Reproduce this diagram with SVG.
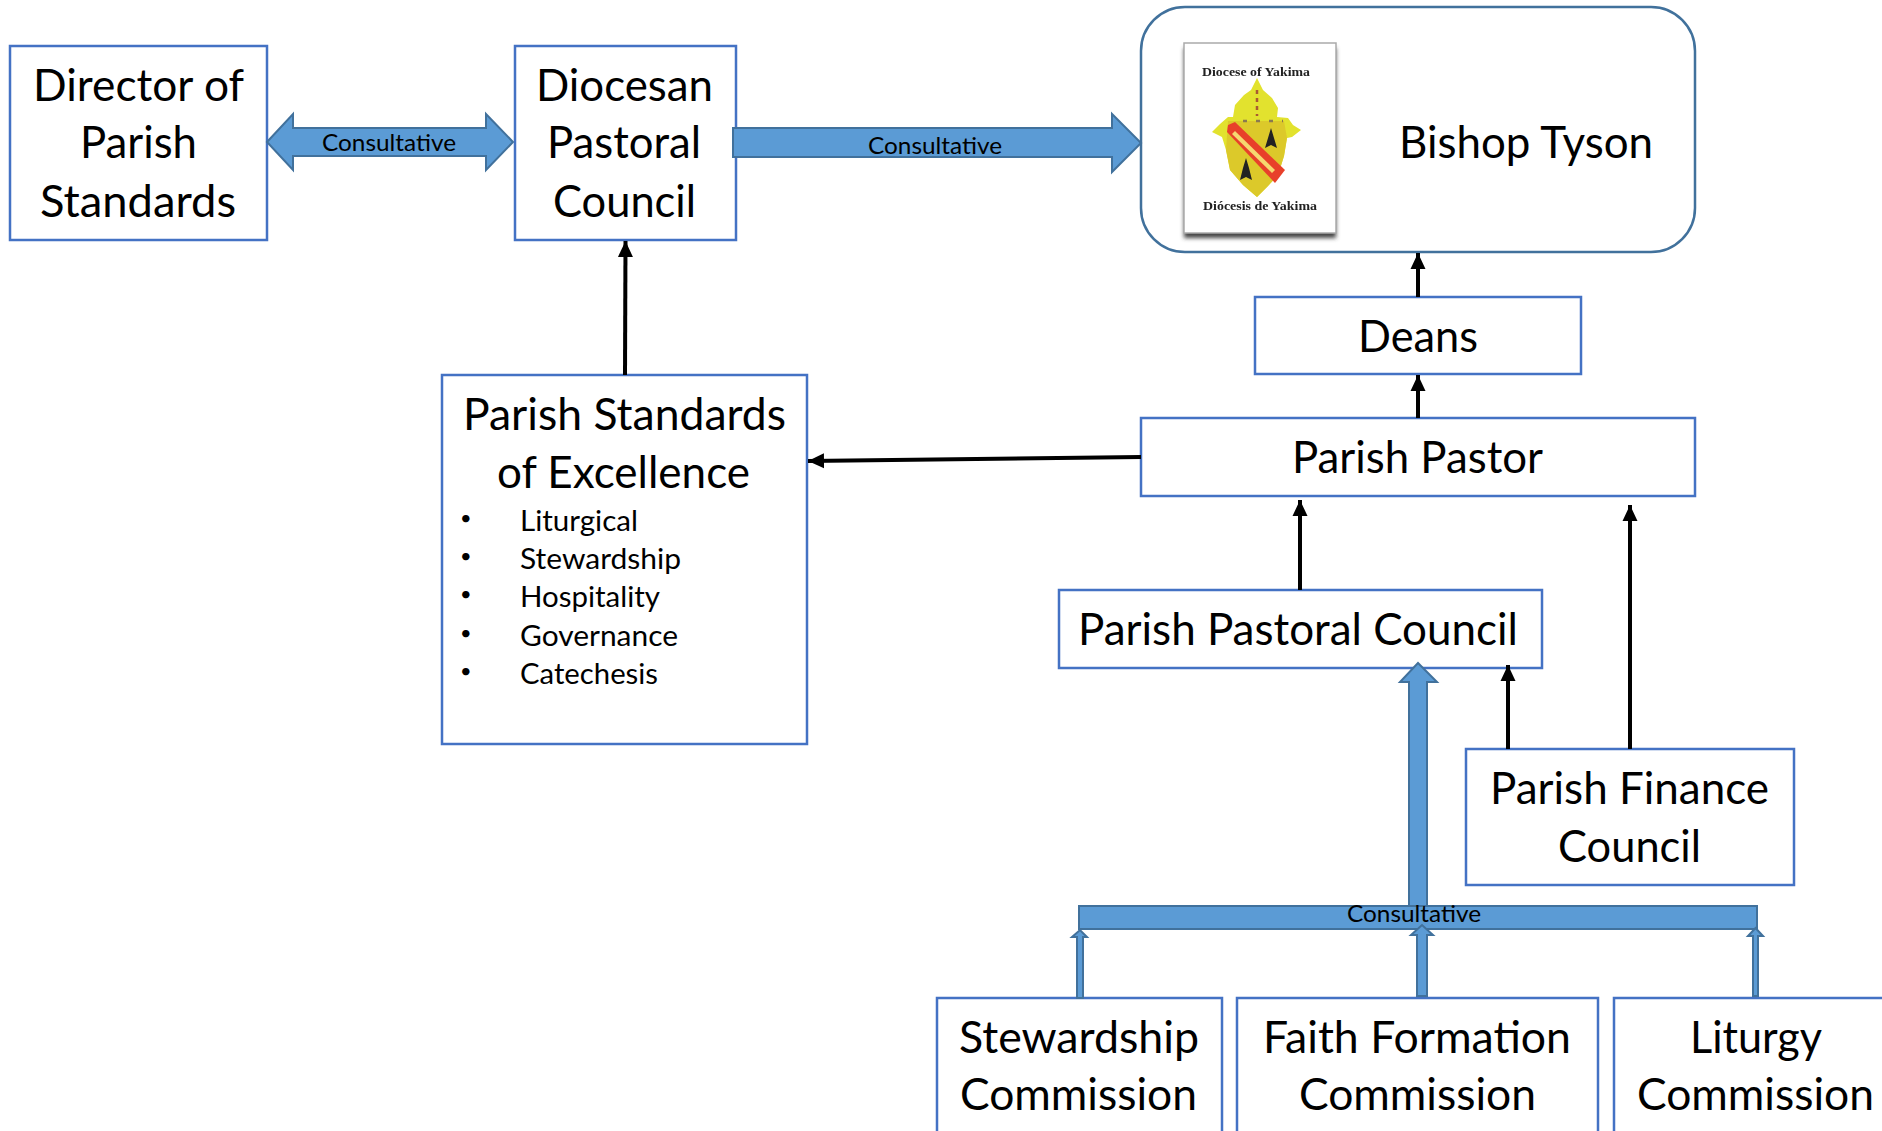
<svg xmlns="http://www.w3.org/2000/svg" width="1882" height="1131" viewBox="0 0 1882 1131">
<defs>
<marker id="ah" markerUnits="userSpaceOnUse" markerWidth="16" markerHeight="16" refX="16" refY="8" orient="auto"><path d="M0 0.5L16 8L0 15.5z" fill="#000"/></marker>
<filter id="sh" x="-10%" y="-10%" width="120%" height="120%"><feGaussianBlur stdDeviation="2.2"/></filter>
<filter id="bl" x="-5%" y="-5%" width="110%" height="110%"><feGaussianBlur stdDeviation="0.7"/></filter>
</defs>
<style>
text{font-family:Lato,"Liberation Sans",sans-serif;fill:#000;text-anchor:start}
.b{fill:#fff;stroke:#4472c4;stroke-width:2.5}
.t{font-size:44px}
.l{font-size:29px}
.d{font-size:20px}
.c{font-size:24px}
.a{fill:#5b9bd5;stroke:#41719c;stroke-width:2}
.k{fill:none;stroke:#000;stroke-width:4;marker-end:url(#ah)}
.s{font-family:"Liberation Serif",serif;font-size:13px;font-weight:bold;fill:#222}
</style>
<rect width="1882" height="1131" fill="#fff"/>

<g id="node-director">
<rect class="b" x="10" y="46" width="257" height="194"/>
<text class="t" x="33" y="101" textLength="211" lengthAdjust="spacingAndGlyphs">Director of</text>
<text class="t" x="80" y="158" textLength="117" lengthAdjust="spacingAndGlyphs">Parish</text>
<text class="t" x="40" y="217" textLength="196" lengthAdjust="spacingAndGlyphs">Standards</text>
</g>
<g id="node-diocesan">
<rect class="b" x="515" y="46" width="221" height="194"/>
<text class="t" x="536" y="101" textLength="177" lengthAdjust="spacingAndGlyphs">Diocesan</text>
<text class="t" x="547" y="158" textLength="154" lengthAdjust="spacingAndGlyphs">Pastoral</text>
<text class="t" x="553" y="217" textLength="143" lengthAdjust="spacingAndGlyphs">Council</text>
</g>
<g id="node-bishop">
<rect x="1141" y="7" width="554" height="245" rx="44" fill="#fff" stroke="#41719c" stroke-width="2.500"/>
<rect x="1184" y="48" width="152" height="190" fill="#444" filter="url(#sh)"/>
<g filter="url(#bl)">
<rect x="1184" y="43" width="152" height="190" fill="#fff" stroke="#aaa" stroke-width="1.500"/>
<path d="M1257 78L1263 90L1272 98L1278 108L1277 117L1288 118L1293 125L1301 130L1292 137L1287 138L1284 156L1278 175L1268 186L1257 197L1243 185L1230 170L1226 150L1222 137L1212 132L1220 124L1228 117L1233 117L1235 105L1244 95L1251 90z" fill="#e2e22e"/>
<path d="M1228 121H1284L1287 138L1284 156L1278 175L1268 186L1257 197L1243 185L1230 170L1226 150z" fill="#dcc92c"/>
<path d="M1235 122L1285 170L1275 183L1227 132L1228 125z" fill="#e8412a"/>
<path d="M1235 131L1275 170L1272 173L1232 134z" fill="#f6d870"/>
<path d="M1271 128L1274 138L1277 148L1271 145L1265 148L1268 138z" fill="#222"/>
<path d="M1246 158L1249 168L1252 180L1246 177L1240 180L1243 168z" fill="#222"/>
<path d="M1257 90V116" stroke="#a85a30" stroke-width="2.500" stroke-dasharray="4 4" fill="none"/>
<path d="M1243 121H1283" stroke="#8a7a50" stroke-width="2.500" stroke-dasharray="4 9" fill="none"/>
<text class="s" x="1202" y="76" textLength="108" lengthAdjust="spacingAndGlyphs">Diocese of Yakima</text>
<text class="s" x="1203" y="210" textLength="114" lengthAdjust="spacingAndGlyphs">Diócesis de Yakima</text>
</g>
<text class="t" x="1399" y="158" textLength="254" lengthAdjust="spacingAndGlyphs">Bishop Tyson</text>
</g>
<g id="node-deans">
<rect class="b" x="1255" y="297" width="326" height="77"/>
<text class="t" x="1358" y="352" textLength="120" lengthAdjust="spacingAndGlyphs">Deans</text>
</g>
<g id="node-pastor">
<rect class="b" x="1141" y="418" width="554" height="78"/>
<text class="t" x="1292" y="473" textLength="251" lengthAdjust="spacingAndGlyphs">Parish Pastor</text>
</g>
<g id="node-standards">
<rect class="b" x="442" y="375" width="365" height="369"/>
<text class="t" x="463" y="430" textLength="323" lengthAdjust="spacingAndGlyphs">Parish Standards</text>
<text class="t" x="497" y="488" textLength="253" lengthAdjust="spacingAndGlyphs">of Excellence</text>
<text class="d" x="460" y="525">•</text>
<text class="l" x="520" y="531" textLength="118" lengthAdjust="spacingAndGlyphs">Liturgical</text>
<text class="d" x="460" y="563">•</text>
<text class="l" x="520" y="569" textLength="161" lengthAdjust="spacingAndGlyphs">Stewardship</text>
<text class="d" x="460" y="601">•</text>
<text class="l" x="520" y="607" textLength="140" lengthAdjust="spacingAndGlyphs">Hospitality</text>
<text class="d" x="460" y="640">•</text>
<text class="l" x="520" y="646" textLength="158" lengthAdjust="spacingAndGlyphs">Governance</text>
<text class="d" x="460" y="678">•</text>
<text class="l" x="520" y="684" textLength="138" lengthAdjust="spacingAndGlyphs">Catechesis</text>
</g>
<g id="node-ppc">
<rect class="b" x="1059" y="590" width="483" height="78"/>
<text class="t" x="1078" y="645" textLength="440" lengthAdjust="spacingAndGlyphs">Parish Pastoral Council</text>
</g>
<g id="node-finance">
<rect class="b" x="1466" y="749" width="328" height="136"/>
<text class="t" x="1490" y="804" textLength="279" lengthAdjust="spacingAndGlyphs">Parish Finance</text>
<text class="t" x="1558" y="862" textLength="143" lengthAdjust="spacingAndGlyphs">Council</text>
</g>
<g id="node-stewardship">
<rect class="b" x="937" y="998" width="285" height="150"/>
<text class="t" x="959" y="1053" textLength="240" lengthAdjust="spacingAndGlyphs">Stewardship</text>
<text class="t" x="960" y="1110" textLength="237" lengthAdjust="spacingAndGlyphs">Commission</text>
</g>
<g id="node-faith">
<rect class="b" x="1237" y="998" width="361" height="150"/>
<text class="t" x="1263" y="1053" textLength="308" lengthAdjust="spacingAndGlyphs">Faith Formation</text>
<text class="t" x="1299" y="1110" textLength="237" lengthAdjust="spacingAndGlyphs">Commission</text>
</g>
<g id="node-liturgy">
<rect class="b" x="1614" y="998" width="300" height="150"/>
<text class="t" x="1690" y="1053" textLength="132" lengthAdjust="spacingAndGlyphs">Liturgy</text>
<text class="t" x="1637" y="1110" textLength="237" lengthAdjust="spacingAndGlyphs">Commission</text>
</g>

<g id="connectors">
<path class="a" d="M267 142L293 114V128H486V114L513 142L486 170V156H293V170z"/>
<path class="a" d="M733 128H1112V114L1141 143L1112 172V157H733z"/>
<path class="a" d="M1409 906V682H1400L1418 663L1437 682H1427V906z"/>
<rect class="a" x="1079" y="906" width="678" height="23"/>
<path class="a" d="M1077 998V937H1072L1080 930L1087 937H1083V998z"/>
<path class="a" d="M1417 996V935H1411L1422 925L1433 935H1427V996z"/>
<path class="a" d="M1753 996V936H1748L1755.500 928L1763 936H1758V996z"/>
<path class="k" d="M625 375L625.500 241"/>
<path class="k" d="M1141 457L808 461"/>
<path class="k" d="M1418 297V253"/>
<path class="k" d="M1418 418V375"/>
<path class="k" d="M1300 590V500"/>
<path class="k" d="M1630 749V505"/>
<path class="k" d="M1508 749V665"/>
<text class="c" x="322" y="151" textLength="134" lengthAdjust="spacingAndGlyphs">Consultative</text>
<text class="c" x="868" y="154" textLength="134" lengthAdjust="spacingAndGlyphs">Consultative</text>
<text class="c" x="1347" y="922" textLength="134" lengthAdjust="spacingAndGlyphs">Consultative</text>
</g>
</svg>
